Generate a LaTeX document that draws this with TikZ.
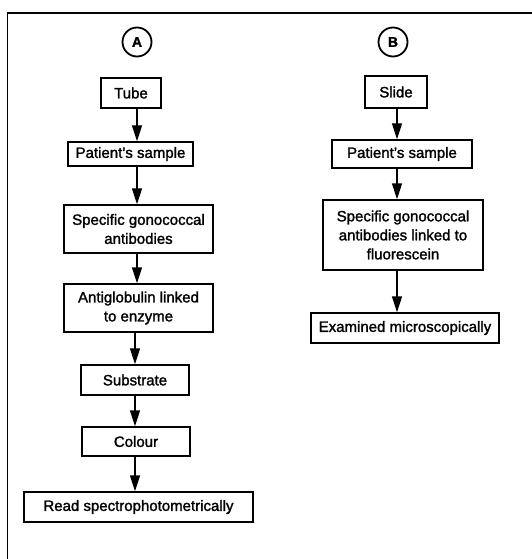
\documentclass[tikz,border=0pt]{standalone}
\usepackage{fontspec}
\setmainfont{Liberation Sans}[FakeBold=1.6]
\newfontfamily\lblfont{Liberation Sans Bold}[FakeBold=1.5]
\usetikzlibrary{arrows.meta}
\tikzset{
  stepbox/.style={draw, line width=1.4pt, inner sep=0pt, align=center,
    font=\fontsize{15}{19}\selectfont},
  arr/.style={line width=1.4pt, -{Triangle[length=16pt,width=10pt]}},
  lbl/.style={draw, circle, line width=1.8pt, minimum size=29pt, inner sep=0pt,
    font=\lblfont\fontsize{14}{14}\selectfont},
}
\begin{document}
\begin{tikzpicture}[x=1pt,y=-1pt]
\useasboundingbox (0,0) rectangle (532,559);
% frame (only left and top edges visible)
\coordinate (fbl) at (7.5,560);
\coordinate (ftl) at (7.5,13);
\coordinate (ftr) at (533,13);
\draw[line width=1.8pt] (fbl) -- (ftl) -- (ftr);
% column A
\node[lbl] (cA) at (137,42) {A};
\node[stepbox, minimum width=60pt, minimum height=30pt] (tube) at (131,93) {Tube};
\node[stepbox, minimum width=125pt, minimum height=24pt] (pA) at (130.5,154) {Patient's sample};
\node[stepbox, minimum width=149pt, minimum height=48pt] (sA) at (138.5,229) {Specific gonococcal\\antibodies};
\node[stepbox, minimum width=149pt, minimum height=48pt] (aA) at (138.5,308) {Antiglobulin linked\\to enzyme};
\node[stepbox, minimum width=108pt, minimum height=30pt] (sub) at (135,380) {Substrate};
\node[stepbox, minimum width=108pt, minimum height=29pt] (col) at (136,441.5) {Colour};
\node[stepbox, minimum width=229pt, minimum height=30pt] (read) at (138.5,507) {Read spectrophotometrically};
\coordinate (ax) at (137,0);
\coordinate (ax2) at (135,0);
\draw[arr] (tube.south -| ax) -- (pA.north -| ax);
\draw[arr] (pA.south -| ax) -- (sA.north -| ax);
\draw[arr] (sA.south -| ax) -- (aA.north -| ax);
\draw[arr] (aA.south -| ax2) -- (sub.north -| ax2);
\draw[arr] (sub.south -| ax2) -- (col.north -| ax2);
\draw[arr] (col.south -| ax2) -- (read.north -| ax2);
% column B
\node[lbl] (cB) at (393,42) {B};
\node[stepbox, minimum width=62pt, minimum height=32pt] (slide) at (396,92) {Slide};
\node[stepbox, minimum width=140pt, minimum height=28pt] (pB) at (402,154) {Patient's sample};
\node[stepbox, minimum width=160pt, minimum height=70pt] (sB) at (403,235) {Specific gonococcal\\antibodies linked to\\fluorescein};
\node[stepbox, minimum width=188pt, minimum height=30pt] (ex) at (405,328) {Examined microscopically};
\coordinate (bx) at (397,0);
\draw[arr] (slide.south -| bx) -- (pB.north -| bx);
\draw[arr] (pB.south -| bx) -- (sB.north -| bx);
\draw[arr] (sB.south -| bx) -- (ex.north -| bx);
\end{tikzpicture}
\end{document}
